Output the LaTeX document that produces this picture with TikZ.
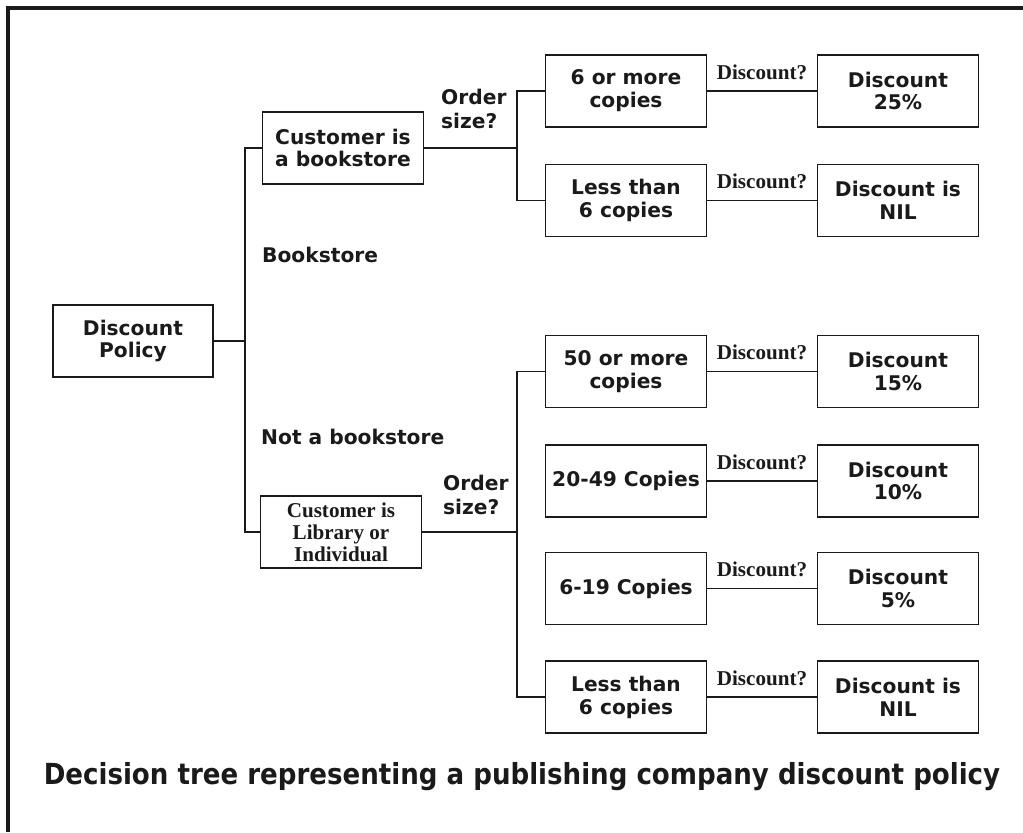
\documentclass[tikz,border=0pt]{standalone}
\usepackage{fontspec}
\setmainfont{DejaVu Sans}
\newfontfamily\tagfont{Liberation Serif}
\newfontfamily\capfont{DejaVu Sans Condensed}
\usepackage{xcolor}
\definecolor{treeInk}{HTML}{1A1A1A}
\usepackage{tikz}
\tikzset{
    choice/.style={
        draw=treeInk,
        line width=1.1pt,
        rectangle,
        align=center,
        minimum width=3.22cm,
        minimum height=1.44cm,
        inner sep=1pt,
        text=treeInk,
        font=\bfseries\fontsize{11.5}{13}\selectfont
    },
    branch/.style={
        draw=treeInk,
        line width=1.1pt
    },
    question/.style={
        midway,
        above=2.5pt,
        text=treeInk,
        font=\tagfont\bfseries\fontsize{12}{13}\selectfont
    },
    answer/.style={
        anchor=west,
        align=left,
        text=treeInk,
        font=\bfseries\fontsize{11.5}{14}\selectfont
    }
}

\begin{document}
\begin{tikzpicture}[x=0.2mm, y=-0.2mm]
    \useasboundingbox (0,0) rectangle (1023,832);
    % frame on top and left
    \draw[treeInk, line width=2.3pt] (8,832) -- (8,8) -- (1023,8);

    % root and customer split
    \node[choice, minimum width=3.2cm] (policy) at (133,341) {Discount\\Policy};
    \node[choice] (store) at (343,148) {Customer is\\a bookstore};
    \node[choice, font=\tagfont\bfseries\fontsize{12}{12.5}\selectfont] (library) at (341,532)
        {Customer is\\Library or\\Individual};
    \coordinate (trunk) at (245,341);
    \draw[branch] (policy.east) -- (trunk);
    \draw[branch] (store.west) -| (trunk) |- (library.west);
    \node[answer] (isStore) at (256,255) {Bookstore};
    \node[answer] (notStore) at (255,437) {Not a bookstore};

    % bookstore orders
    \node[answer] (storeAsk) at (435,109) {Order\\size?};
    \foreach \row/\yy/\size/\rate in {
        1/91/{6 or more\\copies}/{Discount\\25\%},
        2/200.5/{Less than\\6 copies}/{Discount is\\NIL}} {
        \node[choice] (bkTier\row) at (626,\yy) {\size};
        \node[choice] (bkRate\row) at (898,\yy) {\rate};
        \draw[branch] (bkTier\row) -- node[question] {Discount?} (bkRate\row);
    }
    \coordinate (storeFork) at (517,148);
    \draw[branch] (store.east) -- (storeFork);
    \draw[branch] (bkTier1.west) -| (storeFork) |- (bkTier2.west);

    % library and individual orders
    \node[answer] (libAsk) at (437,495) {Order\\size?};
    \foreach \row/\yy/\size/\rate in {
        1/371.5/{50 or more\\copies}/{Discount\\15\%},
        2/481/{20-49 Copies}/{Discount\\10\%},
        3/588.5/{6-19 Copies}/{Discount\\5\%},
        4/697/{Less than\\6 copies}/{Discount is\\NIL}} {
        \node[choice] (libTier\row) at (626,\yy) {\size};
        \node[choice] (libRate\row) at (898,\yy) {\rate};
        \draw[branch] (libTier\row) -- node[question] {Discount?} (libRate\row);
    }
    \coordinate (libFork) at (517,532);
    \draw[branch] (library.east) -- (libFork);
    \draw[branch] (libTier1.west) -| (libFork) |- (libTier4.west);

    \node[text=treeInk, font=\capfont\bfseries\fontsize{16.5}{19}\selectfont] (caption) at (522,777)
        {Decision tree representing a publishing company discount policy};
\end{tikzpicture}
\end{document}
